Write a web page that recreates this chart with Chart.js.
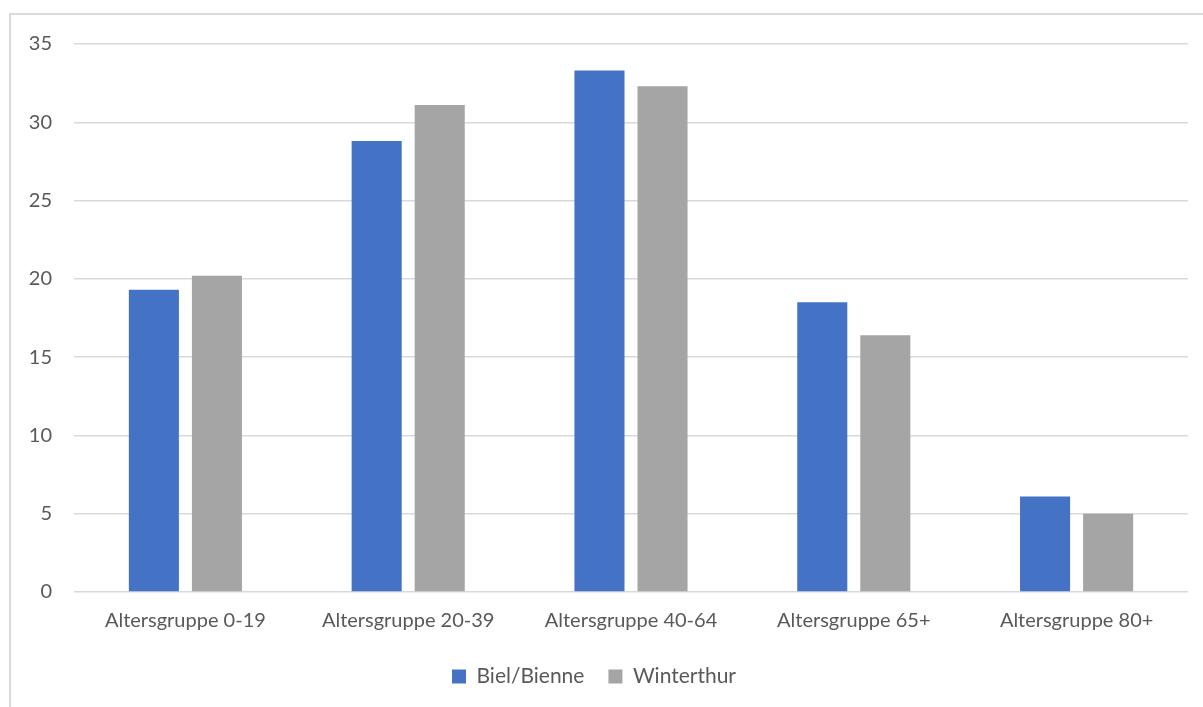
<!DOCTYPE html>
<html>
<head>
<meta charset="utf-8">
<script src="https://cdn.jsdelivr.net/npm/chart.js@4.4.0/dist/chart.umd.min.js"></script>
<style>
  html, body { margin: 0; padding: 0; background: #fff; }
  #frame {
    position: absolute; left: 9px; top: 13px; width: 1300px; height: 800px;
    border-left: 2px solid #d9d9d9; border-top: 2px solid #d9d9d9;
  }
  #wrap { position: absolute; left: 0; top: 0; width: 1203px; height: 707px; }
</style>
</head>
<body>
<div id="frame"></div>
<div id="wrap"><canvas id="myChart"></canvas></div>
<script>
const categories = ['Altersgruppe 0-19', 'Altersgruppe 20-39', 'Altersgruppe 40-64', 'Altersgruppe 65+', 'Altersgruppe 80+'];
const biel = [19.3, 28.8, 33.3, 18.5, 6.1];
const winterthur = [20.2, 31.1, 32.3, 16.4, 5.0];

const ctx = document.getElementById('myChart');

new Chart(ctx, {
  type: 'bar',
  data: {
    labels: categories,
    datasets: [{
      label: 'Biel/Bienne',
      data: biel,
      backgroundColor: '#4472C4'
    }, {
      label: 'Winterthur',
      data: winterthur,
      backgroundColor: '#A5A5A5'
    }]
  },
  options: {
    responsive: true,
    maintainAspectRatio: false,
    animation: false,
    layout: { padding: { top: 44, right: 15, bottom: 10, left: 0 } },
    datasets: {
      bar: { categoryPercentage: 0.566, barPercentage: 0.794 }
    },
    plugins: {
      tooltip: { enabled: false },
      legend: {
        position: 'bottom',
        labels: {
          color: '#595959',
          font: { family: 'Lato', size: 21 },
          boxWidth: 14,
          boxHeight: 14,
          padding: 24
        }
      }
    },
    scales: {
      x: {
        grid: { display: false },
        border: { display: false },
        ticks: { color: '#595959', font: { family: 'Lato', size: 20 }, padding: 9 }
      },
      y: {
        min: 0,
        max: 35,
        afterFit: (s) => { s.width = 74; },
        ticks: { stepSize: 5, color: '#595959', font: { family: 'Lato', size: 20 }, padding: 22 },
        grid: { color: '#d9d9d9', lineWidth: 1.5, drawTicks: false },
        border: { display: false }
      }
    }
  }
});
</script>
</body>
</html>
